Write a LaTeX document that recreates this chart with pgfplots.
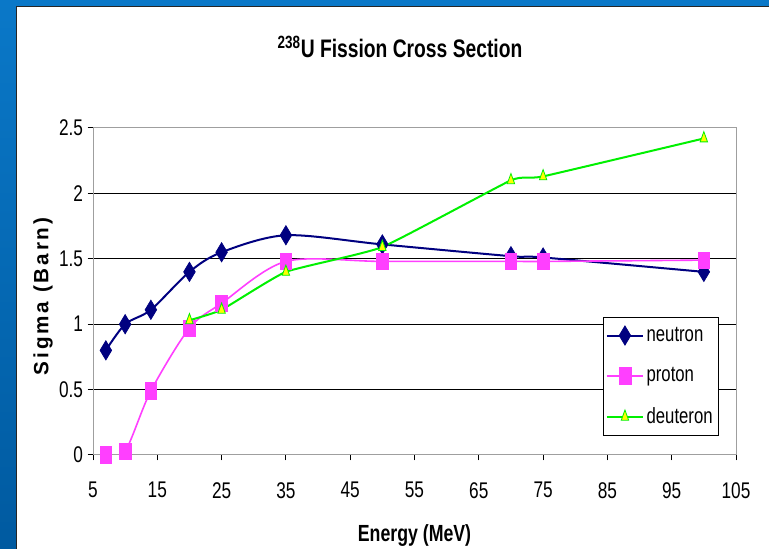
\documentclass[border=0pt]{standalone}
\usepackage{pgfplots}
\pgfplotsset{compat=1.18}
\usepackage{fontspec}
\setmainfont{Liberation Sans}
\newfontfamily\narrow[FakeStretch=0.76]{Liberation Sans}
\newfontfamily\spaced[LetterSpace=14]{Liberation Sans}
\definecolor{navy}{HTML}{000080}
\definecolor{mag}{HTML}{FF3FFF}
\definecolor{grn}{HTML}{00F000}
\definecolor{yel}{HTML}{FFFF00}
\definecolor{slideblue}{HTML}{0A78C8}
\definecolor{slideblue2}{HTML}{005AA0}
\begin{document}
\begin{tikzpicture}
\useasboundingbox (0pt,0pt) rectangle (576.75pt,411.75pt);
\fill[white] (0pt,0pt) rectangle (576.75pt,411.75pt);
\shade[top color=slideblue, bottom color=slideblue2] (0pt,0pt) rectangle (12.2pt,411.75pt);
\fill[slideblue] (0pt,407.5pt) rectangle (576.75pt,411.75pt);
\draw[black!85, line width=0.8pt] (12.4pt,0pt) -- (12.4pt,407.1pt) -- (576.75pt,407.1pt);
\node[font=\narrow\bfseries\fontsize{19}{22}\selectfont] at (300pt,376.5pt) {\textsuperscript{238}U Fission Cross Section};
\begin{axis}[
  at={(69.75pt,70.5pt)}, anchor=south west,
  scale only axis, width=482.25pt, height=245.25pt,
  xmin=5, xmax=105, ymin=0, ymax=2.5,
  xtick={5,15,...,105}, ytick={0,0.5,...,2.5},
  ymajorgrids, grid style={black, line width=0.75pt},
  axis line style={gray!75, line width=0.75pt},
  tick style={black, line width=0.75pt},
  tick align=outside, major tick length=4pt,
  xtick pos=bottom, ytick pos=left,
  /pgf/number format/assume math mode=true,
  ticklabel style={font=\narrow\fontsize{17}{19}\selectfont},
  xticklabel shift=13pt,
  xlabel={Energy (MeV)},
  ylabel={\spaced Sigma (Barn)},
  xlabel style={font=\narrow\bfseries\fontsize{17.5}{20}\selectfont, at={(axis description cs:0.5,-0.245)}, anchor=center},
  ylabel style={font=\bfseries\fontsize{15.5}{17}\selectfont, at={(axis description cs:-0.0775,0.485)}, anchor=center},
  legend style={at={(0.793,0.422)}, anchor=north west, draw=black, line width=0.6pt,
    font=\narrow\fontsize{16.5}{18}\selectfont, row sep=14pt, inner xsep=2pt, inner ysep=5.5pt},
  legend cell align=left,
  legend image code/.code={\draw[#1, mark repeat=2, mark phase=2] plot coordinates {(0pt,0pt) (13.5pt,0pt) (27pt,0pt)};},
]
\addplot[navy, line width=1.5pt, smooth, mark=diamond*, mark size=5.8pt, mark options={fill=navy, solid, line width=0.5pt, yscale=1.25}]
  coordinates {(7,0.80) (10,1.00) (14,1.11) (20,1.40) (25,1.55) (35,1.68) (50,1.61) (70,1.52) (75,1.51) (100,1.40)};
\addlegendentry{neutron}
\addplot[mag, line width=1.2pt, smooth, mark=square*, mark size=4.4pt, mark options={fill=mag, solid, line width=0.5pt, yscale=1.4}]
  coordinates {(7,0.00) (10,0.03) (14,0.49) (20,0.97) (25,1.16) (35,1.48) (50,1.48) (70,1.48) (75,1.48) (100,1.49)};
\addlegendentry{proton}
\addplot[grn, line width=1.5pt, smooth, tension=0.25, mark=triangle*, mark size=3.2pt, mark options={fill=yel, draw=grn, solid, line width=0.6pt, yscale=1.6}]
  coordinates {(20,1.03) (25,1.11) (35,1.40) (50,1.59) (70,2.10) (75,2.13) (100,2.42)};
\addlegendentry{deuteron}
\end{axis}
\end{tikzpicture}
\end{document}
